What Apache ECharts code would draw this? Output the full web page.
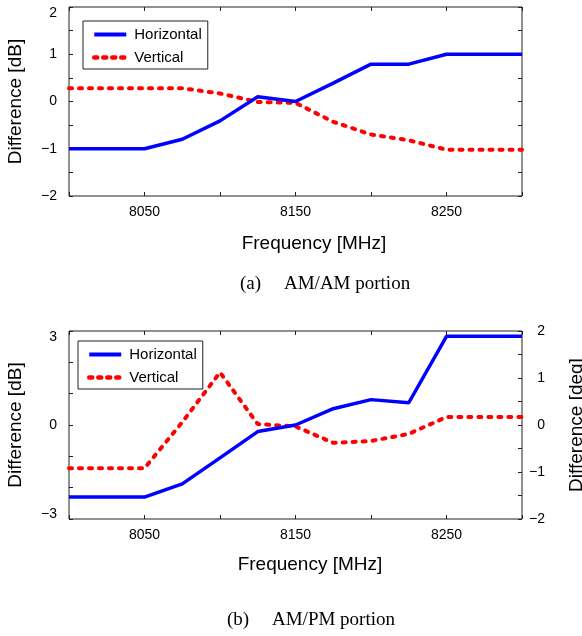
<!DOCTYPE html>
<html>
<head>
<meta charset="utf-8">
<script src="https://cdn.jsdelivr.net/npm/echarts@6/dist/echarts.min.js"></script>
<style>
  html, body { margin: 0; padding: 0; background: #fff; }
  #main { width: 582px; height: 636px; }
</style>
</head>
<body>
<div id="main"></div>
<script>
// frequency points [MHz]
var freqs = [8000, 8025, 8050, 8075, 8100, 8125, 8150, 8175, 8200, 8225, 8250, 8275, 8300];
// (a) AM/AM difference [dB]
var amHoriz = [-1.0, -1.0, -1.0, -0.80, -0.41, 0.10, 0.0, 0.39, 0.79, 0.79, 1.0, 1.0, 1.0];
var amVert = [0.28, 0.28, 0.28, 0.28, 0.17, -0.01, -0.03, -0.43, -0.70, -0.82, -1.02, -1.02, -1.02];
// (b) AM/PM: horizontal on dB axis, vertical on deg axis
var pmHoriz = [-2.30, -2.30, -2.30, -1.88, -1.05, -0.21, 0.0, 0.52, 0.81, 0.71, 2.83, 2.83, 2.83];
var pmVert = [-0.92, -0.92, -0.92, 0.06, 1.12, 0.02, -0.03, -0.38, -0.34, -0.19, 0.17, 0.17, 0.17];
// tick labels
var xTickLabels = [8050, 8150, 8250];
var yTickLabelsA = [-2, -1, 0, 1, 2];
var yTickLabelsBLeft = [-3, 0, 3];
var yTickLabelsBRight = [-2, -1, 0, 1, 2];

var SANS = 'Liberation Sans';
var SERIF = 'Liberation Serif';
var FRAME = '#222';

function pairs(arr) {
  return freqs.map(function (f, i) { return [f, arr[i]]; });
}
// labels only for listed values; end labels nudged inside like the original
function labelFrom(list, lo, hi, shiftEnds) {
  return function (v) {
    if (list.indexOf(v) < 0) return '';
    var s = String(v).replace('-', '\u2212');
    if (shiftEnds && v === hi) return '{dn|' + s + '}';
    if (shiftEnds === 2 && v === lo) return '{up|' + s + '}';
    return s;
  };
}
var endRich = {
  dn: { fontFamily: 'Liberation Sans', fontSize: 14, color: '#000', padding: [12, 0, 0, 0] },
  up: { fontFamily: 'Liberation Sans', fontSize: 14, color: '#000', padding: [0, 0, 10, 0] }
};

var tickInside = { show: true, inside: true, length: 4, lineStyle: { color: FRAME, width: 1 } };
var noLine = { show: false, onZero: false };
var labelStyle = { color: '#000', fontFamily: SANS, fontSize: 14 };

function xAxes(gridIndex, nameGap, shift) {
  return [{
    type: 'value', gridIndex: gridIndex, position: 'bottom',
    min: 8000, max: 8300, interval: 50,
    axisLine: noLine, axisTick: tickInside, splitLine: { show: false },
    axisLabel: Object.assign({ margin: 9, formatter: labelFrom(xTickLabels) }, labelStyle),
    name: 'Frequency [MHz]', nameLocation: 'middle', nameGap: nameGap,
    nameTextStyle: { color: '#000', fontFamily: SANS, fontSize: 19, padding: [0, 0, 0, shift] }
  }, {
    type: 'value', gridIndex: gridIndex, position: 'top',
    min: 8000, max: 8300, interval: 50,
    axisLine: noLine, axisTick: tickInside, splitLine: { show: false },
    axisLabel: { show: false }
  }];
}

var lineH = { color: '#0000ff', width: 3.5, type: 'solid' };
var lineV = { color: '#ff0000', width: 4, type: [3, 7], cap: 'round' };

var legendBase = {
  orient: 'vertical',
  itemWidth: 32, itemHeight: 14, itemGap: 8,
  borderColor: FRAME, borderWidth: 1, borderRadius: 0,
  backgroundColor: '#fff',
  itemStyle: { opacity: 0 },
  textStyle: { color: '#000', fontFamily: SANS, fontSize: 15, padding: [0, 0, 0, 3] },
  data: [
    { name: 'Horizontal', lineStyle: { color: '#0000ff', width: 4, type: 'solid' } },
    { name: 'Vertical', lineStyle: { color: '#ff0000', width: 4.5, type: [3, 6], cap: 'round' } }
  ],
  selectedMode: false
};

var option = {
  animation: false,
  backgroundColor: '#fff',
  title: [
    { text: '(a)', left: 235, top: 270, textStyle: { fontFamily: SERIF, fontSize: 19, fontWeight: 'normal', color: '#000' } },
    { text: 'AM/AM portion', left: 279, top: 270, textStyle: { fontFamily: SERIF, fontSize: 19, fontWeight: 'normal', color: '#000' } },
    { text: '(b)', left: 222, top: 606, textStyle: { fontFamily: SERIF, fontSize: 19, fontWeight: 'normal', color: '#000' } },
    { text: 'AM/PM portion', left: 267, top: 606, textStyle: { fontFamily: SERIF, fontSize: 19, fontWeight: 'normal', color: '#000' } }
  ],
  legend: [
    Object.assign({ left: 83, top: 21, padding: [6, 6, 4, 9] }, legendBase),
    Object.assign({ left: 78, top: 341, padding: [6, 6, 4, 9] }, legendBase)
  ],
  grid: [
    { left: 69, top: 7, width: 453, height: 189, show: true, borderColor: FRAME, borderWidth: 1, outerBoundsMode: 'none' },
    { left: 69, top: 331, width: 453, height: 188, show: true, borderColor: FRAME, borderWidth: 1, outerBoundsMode: 'none' }
  ],
  xAxis: xAxes(0, 38, 37).concat(xAxes(1, 36, 29)),
  yAxis: [{
    type: 'value', gridIndex: 0, position: 'left',
    min: -2, max: 2, interval: 0.5,
    axisLine: noLine, axisTick: tickInside, splitLine: { show: false },
    axisLabel: Object.assign({ margin: 12, rich: endRich, formatter: labelFrom(yTickLabelsA, -2, 2, 1) }, labelStyle),
    name: 'Difference [dB]', nameLocation: 'middle', nameGap: 44,
    nameTextStyle: { color: '#000', fontFamily: SANS, fontSize: 19 }
  }, {
    type: 'value', gridIndex: 0, position: 'right',
    min: -2, max: 2, interval: 0.5,
    axisLine: noLine, axisTick: tickInside, splitLine: { show: false },
    axisLabel: { show: false }
  }, {
    type: 'value', gridIndex: 1, position: 'left',
    min: -3, max: 3, interval: 1,
    axisLine: noLine, axisTick: tickInside, splitLine: { show: false },
    axisLabel: Object.assign({ margin: 12, rich: endRich, formatter: labelFrom(yTickLabelsBLeft, -3, 3, 2) }, labelStyle),
    name: 'Difference [dB]', nameLocation: 'middle', nameGap: 44,
    nameTextStyle: { color: '#000', fontFamily: SANS, fontSize: 19 }
  }, {
    type: 'value', gridIndex: 1, position: 'right',
    min: -2, max: 2, interval: 0.5,
    axisLine: noLine, axisTick: tickInside, splitLine: { show: false },
    axisLabel: Object.assign({ margin: 23, align: 'right', formatter: labelFrom(yTickLabelsBRight) }, labelStyle),
    name: 'Difference [deg]', nameLocation: 'middle', nameGap: 45, nameRotate: 90,
    nameTextStyle: { color: '#000', fontFamily: SANS, fontSize: 19 }
  }],
  series: [
    { name: 'Horizontal', type: 'line', xAxisIndex: 0, yAxisIndex: 0, data: pairs(amHoriz), symbol: 'none', lineStyle: lineH, z: 3 },
    { name: 'Vertical', type: 'line', xAxisIndex: 0, yAxisIndex: 0, data: pairs(amVert), symbol: 'none', lineStyle: lineV, z: 2 },
    { name: 'Horizontal', type: 'line', xAxisIndex: 2, yAxisIndex: 2, data: pairs(pmHoriz), symbol: 'none', lineStyle: lineH, z: 3 },
    { name: 'Vertical', type: 'line', xAxisIndex: 2, yAxisIndex: 3, data: pairs(pmVert), symbol: 'none', lineStyle: lineV, z: 2 }
  ]
};

var chart = echarts.init(document.getElementById('main'), null, { renderer: 'canvas' });
chart.setOption(option);
</script>
</body>
</html>
